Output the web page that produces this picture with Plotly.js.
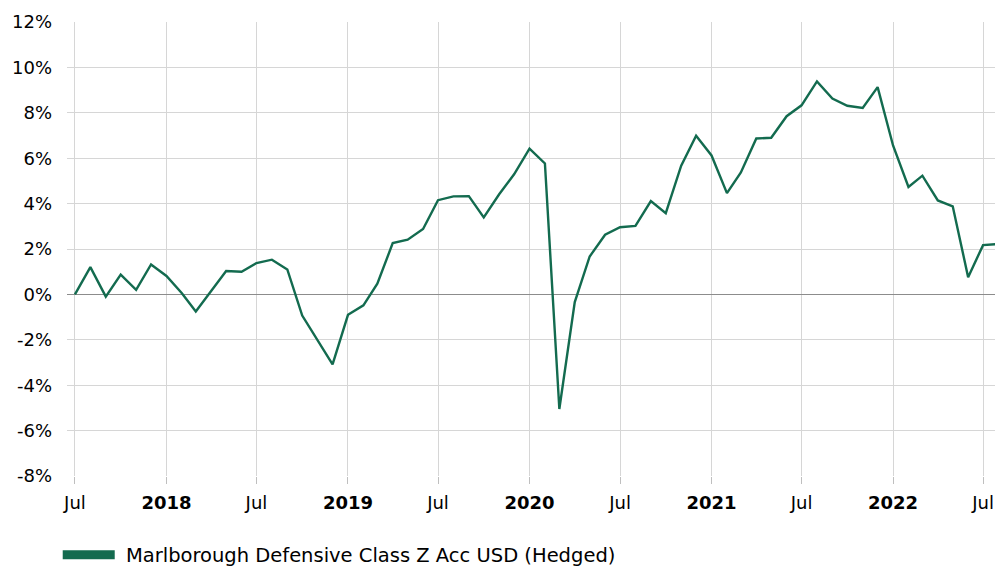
<!DOCTYPE html>
<html>
<head>
<meta charset="utf-8">
<script src="https://cdn.plot.ly/plotly-3.0.1.min.js"></script>
<style>
  html, body { margin: 0; padding: 0; background: #fff; }
  #chart { width: 995px; height: 570px; }
</style>
</head>
<body>
<div id="chart"></div>
<script>
// Monthly dates
const months = [
  '2017-07-01','2017-08-01','2017-09-01','2017-10-01','2017-11-01','2017-12-01',
  '2018-01-01','2018-02-01','2018-03-01','2018-04-01','2018-05-01','2018-06-01',
  '2018-07-01','2018-08-01','2018-09-01','2018-10-01','2018-11-01','2018-12-01',
  '2019-01-01','2019-02-01','2019-03-01','2019-04-01','2019-05-01','2019-06-01',
  '2019-07-01','2019-08-01','2019-09-01','2019-10-01','2019-11-01','2019-12-01',
  '2020-01-01','2020-02-01','2020-03-01','2020-04-01','2020-05-01','2020-06-01',
  '2020-07-01','2020-08-01','2020-09-01','2020-10-01','2020-11-01','2020-12-01',
  '2021-01-01','2021-02-01','2021-03-01','2021-04-01','2021-05-01','2021-06-01',
  '2021-07-01','2021-08-01','2021-09-01','2021-10-01','2021-11-01','2021-12-01',
  '2022-01-01','2022-02-01','2022-03-01','2022-04-01','2022-05-01','2022-06-01',
  '2022-07-01','2022-08-01'
];

// Cumulative performance (%)
const performance = [
  0.00, 1.20, -0.10, 0.87, 0.20, 1.32,
  0.81, 0.05, -0.75, 0.15, 1.03, 1.00,
  1.38, 1.53, 1.10, -0.93, -2.00, -3.08,
  -0.90, -0.48, 0.47, 2.26, 2.41, 2.88,
  4.15, 4.32, 4.33, 3.39, 4.41, 5.29,
  6.42, 5.77, -5.05, -0.34, 1.67, 2.63,
  2.96, 3.02, 4.11, 3.58, 5.67, 6.99,
  6.12, 4.46, 5.37, 6.87, 6.90, 7.85,
  8.33, 9.38, 8.63, 8.31, 8.21, 9.13,
  6.56, 4.73, 5.23, 4.14, 3.88, 0.76,
  2.17, 2.22
];

const seriesName = 'Marlborough Defensive Class Z Acc USD (Hedged)';

const xTickVals = ['2017-07-01','2018-01-01','2018-07-01','2019-01-01','2019-07-01',
                   '2020-01-01','2020-07-01','2021-01-01','2021-07-01','2022-01-01','2022-07-01'];
const xTickText = ['Jul','<b>2018</b>','Jul','<b>2019</b>','Jul',
                   '<b>2020</b>','Jul','<b>2021</b>','Jul','<b>2022</b>','Jul'];

const yTickVals = [-8, -6, -4, -2, 0, 2, 4, 6, 8, 10, 12];
const yTickText = ['-8%','-6%','-4%','-2%','0%','2%','4%','6%','8%','10%','12%'];

const green = '#136b4f';
const font = 'Verdana, "DejaVu Sans", sans-serif';

const traces = [
  {
    x: months, y: performance, type: 'scatter', mode: 'lines',
    line: { color: green, width: 2.4 },
    name: seriesName, showlegend: false, hoverinfo: 'x+y'
  },
  {
    x: [null], y: [null], type: 'scatter', mode: 'lines',
    line: { color: green, width: 9 },
    name: '\u00a0' + seriesName, showlegend: true
  }
];

const layout = {
  width: 995, height: 570,
  margin: { l: 67, r: 0, t: 22, b: 94 },
  paper_bgcolor: '#ffffff', plot_bgcolor: '#ffffff',
  font: { family: font, size: 18, color: '#000000' },
  showlegend: true,
  legend: {
    orientation: 'h', x: -0.01, xanchor: 'left',
    yref: 'container', y: 0.026, yanchor: 'middle',
    font: { family: font, size: 19.5, color: '#000' },
    itemwidth: 52, bgcolor: 'rgba(0,0,0,0)'
  },
  xaxis: {
    type: 'date',
    range: ['2017-06-15', '2022-07-25'],
    tickmode: 'array', tickvals: xTickVals, ticktext: xTickText,
    showgrid: true, gridcolor: '#d6d6d6', gridwidth: 1,
    ticks: 'outside', ticklen: 7, tickcolor: '#bfbfbf', tickwidth: 1,
    ticklabelstandoff: 3,
    showline: false, zeroline: false, automargin: false,
    tickfont: { family: font, size: 18, color: '#000' }
  },
  yaxis: {
    range: [-8, 12],
    tickmode: 'array', tickvals: yTickVals, ticktext: yTickText,
    showgrid: true, gridcolor: '#d6d6d6', gridwidth: 1,
    zeroline: true, zerolinecolor: '#8c8c8c', zerolinewidth: 1.5,
    ticks: '', ticklabelstandoff: 14,
    showline: false, automargin: false,
    tickfont: { family: font, size: 18, color: '#000' }
  }
};

Plotly.newPlot('chart', traces, layout, { displayModeBar: false, staticPlot: true });
</script>
</body>
</html>
